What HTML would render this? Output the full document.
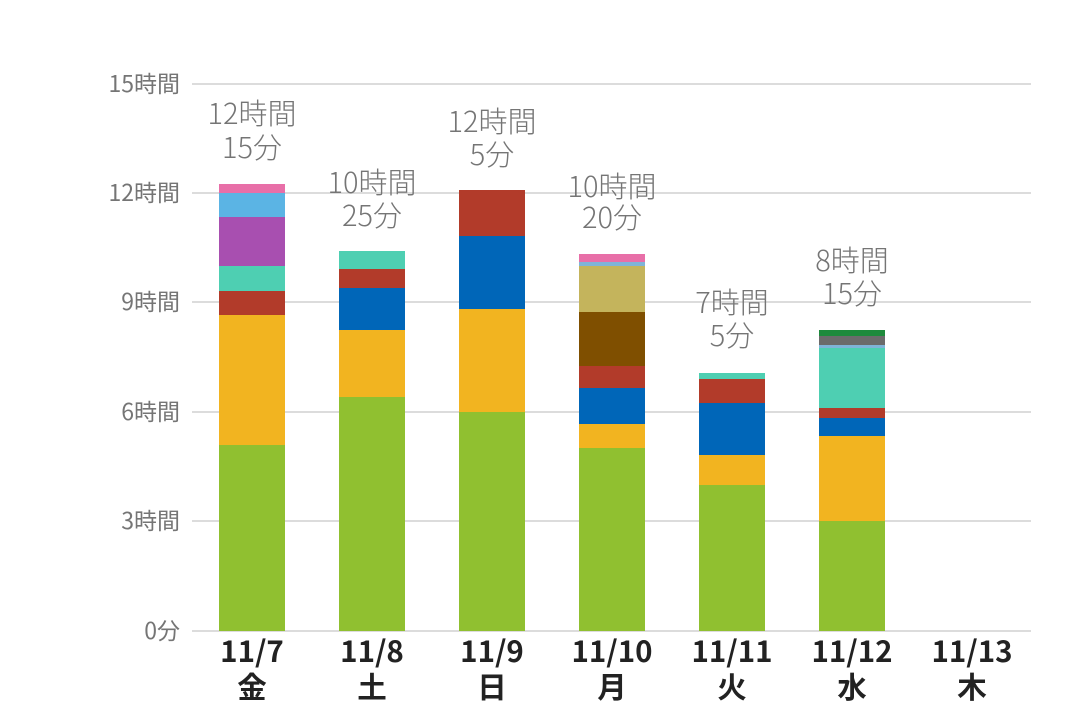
<!DOCTYPE html><html><head><meta charset="utf-8"><style>body{margin:0;background:#fff}</style></head><body>
<svg width="1080" height="720" xmlns="http://www.w3.org/2000/svg" font-family="Noto Sans CJK JP, Liberation Sans, sans-serif">
<g stroke="#d0d0d0" stroke-width="1.5">
<line x1="192" x2="1031" y1="84" y2="84"/><line x1="192" x2="1031" y1="193" y2="193"/><line x1="192" x2="1031" y1="302" y2="302"/><line x1="192" x2="1031" y1="412" y2="412"/><line x1="192" x2="1031" y1="521" y2="521"/><line x1="192" x2="1031" y1="631" y2="631"/>
</g>
<g fill="#757575" font-size="23" text-anchor="end">
<text x="180" y="92">15時間</text><text x="180" y="201">12時間</text><text x="180" y="310">9時間</text><text x="180" y="420">6時間</text><text x="180" y="529">3時間</text><text x="180" y="639">0分</text>
</g>
<g>
<rect x="219" y="445" width="66" height="186" fill="#90c030"/><rect x="219" y="315" width="66" height="130" fill="#f2b420"/><rect x="219" y="291" width="66" height="24" fill="#b23b2a"/><rect x="219" y="266" width="66" height="25" fill="#4ecfb2"/><rect x="219" y="217" width="66" height="49" fill="#a84fb0"/><rect x="219" y="193" width="66" height="24" fill="#5bb4e4"/><rect x="219" y="184" width="66" height="9" fill="#e86fa8"/>
<rect x="339" y="397" width="66" height="234" fill="#90c030"/><rect x="339" y="330" width="66" height="67" fill="#f2b420"/><rect x="339" y="288" width="66" height="42" fill="#0066b8"/><rect x="339" y="269" width="66" height="19" fill="#b23b2a"/><rect x="339" y="251" width="66" height="18" fill="#4ecfb2"/>
<rect x="459" y="412" width="66" height="219" fill="#90c030"/><rect x="459" y="309" width="66" height="103" fill="#f2b420"/><rect x="459" y="236" width="66" height="73" fill="#0066b8"/><rect x="459" y="190" width="66" height="46" fill="#b23b2a"/>
<rect x="579" y="448" width="66" height="183" fill="#90c030"/><rect x="579" y="424" width="66" height="24" fill="#f2b420"/><rect x="579" y="388" width="66" height="36" fill="#0066b8"/><rect x="579" y="366" width="66" height="22" fill="#b23b2a"/><rect x="579" y="312" width="66" height="54" fill="#7f4f00"/><rect x="579" y="266" width="66" height="46" fill="#c4b45c"/><rect x="579" y="262" width="66" height="4" fill="#7fb4d8"/><rect x="579" y="254" width="66" height="8" fill="#e86fa8"/>
<rect x="699" y="485" width="66" height="146" fill="#90c030"/><rect x="699" y="455" width="66" height="30" fill="#f2b420"/><rect x="699" y="403" width="66" height="52" fill="#0066b8"/><rect x="699" y="379" width="66" height="24" fill="#b23b2a"/><rect x="699" y="373" width="66" height="6" fill="#4ecfb2"/>
<rect x="819" y="521" width="66" height="110" fill="#90c030"/><rect x="819" y="436" width="66" height="85" fill="#f2b420"/><rect x="819" y="418" width="66" height="18" fill="#0066b8"/><rect x="819" y="408" width="66" height="10" fill="#b23b2a"/><rect x="819" y="348" width="66" height="60" fill="#4ecfb2"/><rect x="819" y="345" width="66" height="3" fill="#7fb4d8"/><rect x="819" y="336" width="66" height="9" fill="#6b6b6b"/><rect x="819" y="330" width="66" height="6" fill="#1e8a3c"/>
</g>
<g fill="#757575" font-size="29" font-weight="300" text-anchor="middle">
<text x="252" y="124">12時間</text><text x="252" y="158">15分</text>
<text x="372" y="193">10時間</text><text x="372" y="226">25分</text>
<text x="492" y="132">12時間</text><text x="492" y="165">5分</text>
<text x="612" y="197">10時間</text><text x="612" y="228">20分</text>
<text x="732" y="313">7時間</text><text x="732" y="346">5分</text>
<text x="852" y="271">8時間</text><text x="852" y="304">15分</text>
</g>
<g fill="#222" font-size="29.5" font-weight="bold" text-anchor="middle">
<text x="252" y="662">11/7</text><text x="252" y="698">金</text>
<text x="372" y="662">11/8</text><text x="372" y="698">土</text>
<text x="492" y="662">11/9</text><text x="492" y="698">日</text>
<text x="612" y="662">11/10</text><text x="612" y="698">月</text>
<text x="732" y="662">11/11</text><text x="732" y="698">火</text>
<text x="852" y="662">11/12</text><text x="852" y="698">水</text>
<text x="972" y="662">11/13</text><text x="972" y="698">木</text>
</g>
</svg>
</body></html>
